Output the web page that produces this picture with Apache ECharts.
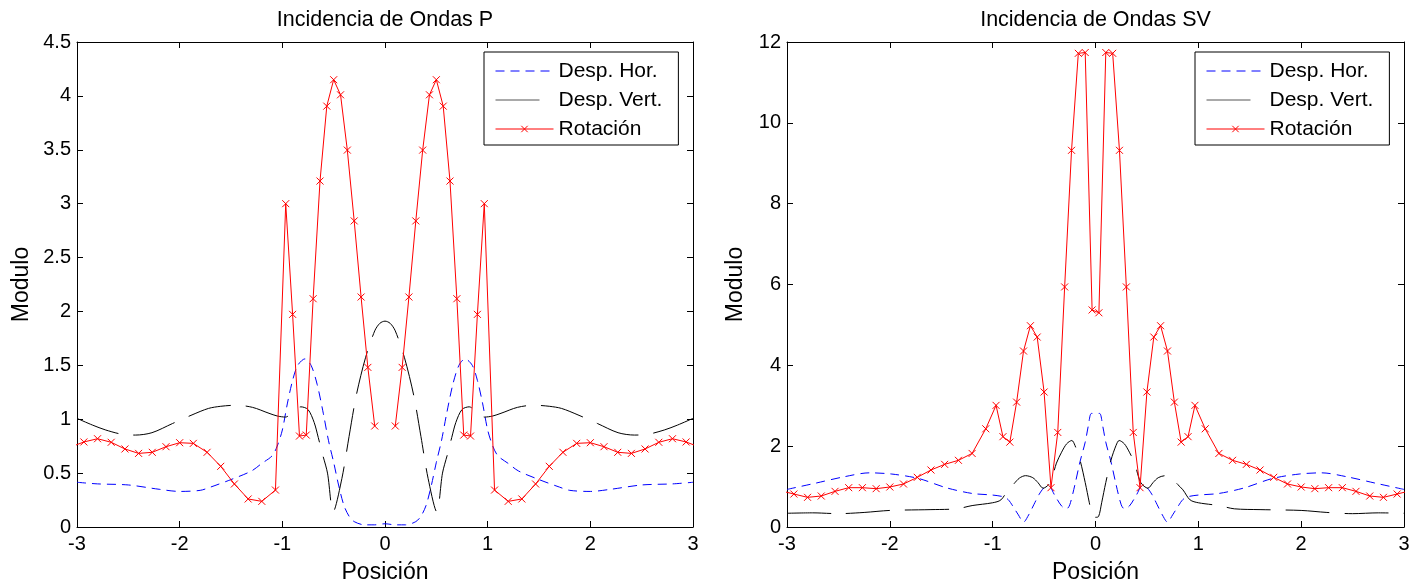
<!DOCTYPE html>
<html>
<head>
<meta charset="utf-8">
<script src="https://cdn.jsdelivr.net/npm/echarts@6/dist/echarts.min.js"></script>
<style>
html,body{margin:0;padding:0;background:#fff;}
#chart{width:1425px;height:587px;}
</style>
</head>
<body>
<div id="chart"></div>
<script>
// ---------- DATA ----------
const titles = ['Incidencia de Ondas P', 'Incidencia de Ondas SV'];
const seriesNames = ['Desp. Hor.', 'Desp. Vert.', 'Rotación'];
const xLabel = 'Posición';
const yLabel = 'Modulo';

// Rotation sample positions (shared by both panels)
const rotX = [-3.067,-2.933,-2.8,-2.667,-2.533,-2.4,-2.267,-2.133,-2.0,-1.867,-1.733,-1.6,-1.467,-1.333,-1.2,-1.067,
  -0.967,-0.9,-0.833,-0.767,-0.7,-0.633,-0.567,-0.5,-0.433,-0.367,-0.3,-0.233,-0.167,-0.1,-0.033,
  0.033,0.1,0.167,0.233,0.3,0.367,0.433,0.5,0.567,0.633,0.7,0.767,0.833,0.9,0.967,
  1.067,1.2,1.333,1.467,1.6,1.733,1.867,2.0,2.133,2.267,2.4,2.533,2.667,2.8,2.933,3.067];

// Panel P
const pRotY = [0.74,0.789,0.819,0.786,0.724,0.683,0.693,0.745,0.782,0.776,0.693,0.563,0.399,0.26,0.238,0.343,
  3.0,1.973,0.844,0.853,2.118,3.21,3.905,4.15,4.01,3.497,2.84,2.134,1.481,0.937,null,
  null,0.937,1.481,2.134,2.84,3.497,4.01,4.15,3.905,3.21,2.118,0.853,0.844,1.973,3.0,
  0.343,0.238,0.26,0.399,0.563,0.693,0.776,0.782,0.745,0.693,0.683,0.724,0.786,0.819,0.789,0.74];

const pHorX = [-3.0,-2.8,-2.5,-2.2,-2.0,-1.8,-1.7,-1.5,-1.3,-1.2,-1.1,-1.05,-1.0,-0.95,-0.9,-0.85,-0.78,-0.72,-0.66,-0.6,-0.55,-0.5,-0.45,-0.4,-0.35,-0.3,-0.2,-0.1,0,
  0.1,0.2,0.3,0.35,0.4,0.45,0.5,0.55,0.6,0.66,0.72,0.78,0.85,0.9,0.95,1.0,1.05,1.1,1.2,1.3,1.5,1.7,1.8,2.0,2.2,2.5,2.8,3.0];
const pHorY = [0.415,0.40,0.39,0.35,0.33,0.34,0.37,0.44,0.52,0.59,0.66,0.75,0.9,1.15,1.36,1.5,1.56,1.50,1.32,1.05,0.8,0.6,0.38,0.2,0.1,0.05,0.02,0.02,0.03,
  0.02,0.02,0.05,0.1,0.2,0.38,0.6,0.8,1.05,1.32,1.50,1.56,1.5,1.36,1.15,0.9,0.75,0.66,0.59,0.52,0.44,0.37,0.34,0.33,0.35,0.39,0.40,0.415];

const pVerX = [-3.0,-2.85,-2.72,-2.56,-2.43,-2.27,-2.07,-1.88,-1.72,-1.6,-1.45,-1.29,-1.13,-1.05,-0.97,-0.88,-0.82,-0.75,-0.69,-0.65,-0.61,-0.56,-0.505,-0.42,-0.35,-0.28,-0.19,-0.1,-0.05,0,
  0.05,0.1,0.19,0.28,0.35,0.42,0.505,0.56,0.61,0.65,0.69,0.75,0.82,0.88,0.97,1.05,1.13,1.29,1.45,1.6,1.72,1.88,2.07,2.27,2.43,2.56,2.72,2.85,3.0];
const pVerY = [1.008,0.946,0.90,0.86,0.853,0.875,0.96,1.04,1.10,1.12,1.13,1.11,1.055,1.03,1.02,1.08,1.115,1.09,0.97,0.83,0.68,0.50,0.14,0.45,0.84,1.22,1.57,1.82,1.89,1.91,
  1.89,1.82,1.57,1.22,0.84,0.45,0.14,0.50,0.68,0.83,0.97,1.09,1.115,1.08,1.02,1.03,1.055,1.11,1.13,1.12,1.10,1.04,0.96,0.875,0.853,0.86,0.90,0.946,1.008];

// Panel SV
const svRotY = [0.9,0.816,0.734,0.767,0.882,0.973,0.973,0.948,0.99,1.064,1.229,1.41,1.55,1.65,1.82,2.43,
  3.01,2.235,2.10,3.09,4.354,4.98,4.70,3.34,0.973,2.34,5.94,9.32,11.72,11.74,5.37,
  5.30,11.74,11.72,9.32,5.94,2.34,0.973,3.34,4.70,4.98,4.354,3.09,2.10,2.235,3.01,
  2.43,1.82,1.65,1.55,1.41,1.229,1.064,0.99,0.948,0.973,0.973,0.882,0.767,0.734,0.816,0.9];

const svHorX = [-3.0,-2.73,-2.44,-2.2,-1.98,-1.72,-1.45,-1.2,-1.0,-0.9,-0.85,-0.8,-0.75,-0.7,-0.65,-0.6,-0.55,-0.5,-0.45,-0.4,-0.33,-0.28,-0.25,-0.2,-0.15,-0.1,-0.07,-0.04,0,
  0.04,0.07,0.1,0.15,0.2,0.25,0.28,0.33,0.4,0.45,0.5,0.55,0.6,0.65,0.7,0.75,0.8,0.85,0.9,1.0,1.2,1.45,1.72,1.98,2.2,2.44,2.73,3.0];
const svHorY = [0.93,1.08,1.245,1.34,1.31,1.2,0.97,0.83,0.79,0.75,0.68,0.5,0.3,0.12,0.3,0.55,0.8,0.97,1.0,0.8,0.52,0.45,0.55,1.05,1.62,2.1,2.5,2.81,2.81,
  2.81,2.5,2.1,1.62,1.05,0.55,0.45,0.52,0.8,1.0,0.97,0.8,0.55,0.3,0.12,0.3,0.5,0.68,0.75,0.79,0.83,0.97,1.2,1.31,1.34,1.245,1.08,0.93];

const svVerX = [-3.0,-2.75,-2.5,-2.25,-2.0,-1.6,-1.35,-1.2,-1.0,-0.92,-0.85,-0.8,-0.74,-0.68,-0.61,-0.56,-0.51,-0.44,-0.38,-0.33,-0.28,-0.23,-0.2,-0.15,-0.1,-0.06,-0.03,0,
  0.03,0.06,0.1,0.15,0.2,0.23,0.28,0.33,0.38,0.44,0.51,0.56,0.61,0.68,0.74,0.8,0.85,0.92,1.0,1.2,1.35,1.6,2.0,2.25,2.5,2.75,3.0];
const svVerY = [0.34,0.35,0.33,0.36,0.41,0.43,0.45,0.53,0.6,0.67,0.92,1.05,1.21,1.27,1.22,1.1,0.96,1.1,1.58,1.85,2.06,2.14,2.02,1.65,1.1,0.6,0.26,0.24,
  0.26,0.6,1.1,1.65,2.02,2.14,2.06,1.85,1.58,1.1,0.96,1.1,1.22,1.27,1.21,1.05,0.92,0.67,0.6,0.53,0.45,0.43,0.41,0.36,0.33,0.35,0.34];

const xTick = {min: -3, max: 3, interval: 1};
const yTickP = {min: 0, max: 4.5, interval: 0.5};
const yTickSV = {min: 0, max: 12, interval: 2};

// ---------- BUILD ----------
const FONT = 'Liberation Sans, Arial, Helvetica, sans-serif';
const zip = (xs, ys) => xs.map((x, i) => [x, ys[i] === null ? '-' : ys[i]]);
const xMark = 'path://M0,0L10,10M10,0L0,10';

const grids = [
  {left: 77, top: 42, width: 616, height: 485, containLabel: false, outerBoundsMode: 'none'},
  {left: 787, top: 42, width: 617, height: 485, containLabel: false, outerBoundsMode: 'none'}
];
const yTicks = [yTickP, yTickSV];

const xAxes = [], yAxes = [];
grids.forEach((g, gi) => {
  const axLine = {show: true, onZero: false, lineStyle: {color: '#000', width: 1}};
  const axTick = {show: true, inside: true, length: 6, lineStyle: {color: '#000', width: 1}};
  xAxes.push({
    type: 'value', gridIndex: gi, position: 'bottom', min: xTick.min, max: xTick.max, interval: xTick.interval,
    axisLine: axLine, axisTick: axTick, splitLine: {show: false},
    axisLabel: {color: '#000', fontSize: 20, fontFamily: FONT, margin: 7},
    name: xLabel, nameLocation: 'middle', nameGap: 34,
    nameTextStyle: {color: '#000', fontSize: 23, fontFamily: FONT}
  });
  xAxes.push({
    type: 'value', gridIndex: gi, position: 'top', min: xTick.min, max: xTick.max, interval: xTick.interval,
    axisLine: axLine, axisTick: axTick, splitLine: {show: false}, axisLabel: {show: false},
    name: titles[gi], nameLocation: 'middle', nameGap: 11,
    nameTextStyle: {color: '#000', fontSize: 21.5, fontFamily: FONT}
  });
  const yt = yTicks[gi];
  yAxes.push({
    type: 'value', gridIndex: gi, position: 'left', min: yt.min, max: yt.max, interval: yt.interval,
    axisLine: axLine, axisTick: axTick, splitLine: {show: false},
    axisLabel: {color: '#000', fontSize: 20, fontFamily: FONT, margin: 6},
    name: yLabel, nameLocation: 'middle', nameGap: gi === 0 ? 44 : 40,
    nameTextStyle: {color: '#000', fontSize: 23, fontFamily: FONT}
  });
  yAxes.push({
    type: 'value', gridIndex: gi, position: 'right', min: yt.min, max: yt.max, interval: yt.interval,
    axisLine: axLine, axisTick: axTick, splitLine: {show: false}, axisLabel: {show: false}
  });
});

function mkSeries(gi, horX, horY, verX, verY, rotY) {
  return [
    {name: seriesNames[0], type: 'line', xAxisIndex: gi * 2, yAxisIndex: gi * 2, data: zip(horX, horY),
     symbol: 'none', smooth: 0.3, lineStyle: {color: '#0000ff', width: 1, type: [9, 6]}, itemStyle: {color: '#0000ff'}},
    {name: seriesNames[1], type: 'line', xAxisIndex: gi * 2, yAxisIndex: gi * 2, data: zip(verX, verY),
     symbol: 'none', smooth: 0.3, lineStyle: {color: '#000000', width: 1, type: [44, 15]}, itemStyle: {color: '#000000'}},
    {name: seriesNames[2], type: 'line', xAxisIndex: gi * 2, yAxisIndex: gi * 2, data: zip(rotX, rotY),
     symbol: xMark, symbolSize: 7, showSymbol: true, connectNulls: false,
     lineStyle: {color: '#ff0000', width: 1},
     itemStyle: {color: '#ff0000', borderColor: '#ff0000', borderWidth: 1}}
  ];
}

const legendItems = [
  {name: seriesNames[0], itemStyle: {opacity: 0}},
  {name: seriesNames[1], itemStyle: {opacity: 0}, lineStyle: {color: '#555555'}},
  {name: seriesNames[2]}
];

const legendBase = {
  orient: 'vertical', top: 52, data: legendItems, selectedMode: false,
  itemWidth: 58, itemHeight: 8, itemGap: 7,
  padding: [8, 16, 5, 11], borderColor: '#000', borderWidth: 1, backgroundColor: '#fff',
  lineStyle: {width: 1},
  itemStyle: {borderWidth: 1},
  textStyle: {color: '#000', fontSize: 21, fontFamily: FONT, lineHeight: 22}
};

const option = {
  animation: false,
  backgroundColor: '#fff',
  grid: grids,
  xAxis: xAxes,
  yAxis: yAxes,
  legend: [Object.assign({left: 484}, legendBase), Object.assign({left: 1195}, legendBase)],
  series: mkSeries(0, pHorX, pHorY, pVerX, pVerY, pRotY).concat(mkSeries(1, svHorX, svHorY, svVerX, svVerY, svRotY))
};

const chart = echarts.init(document.getElementById('chart'), null, {renderer: 'canvas'});
chart.setOption(option);
</script>
</body>
</html>
